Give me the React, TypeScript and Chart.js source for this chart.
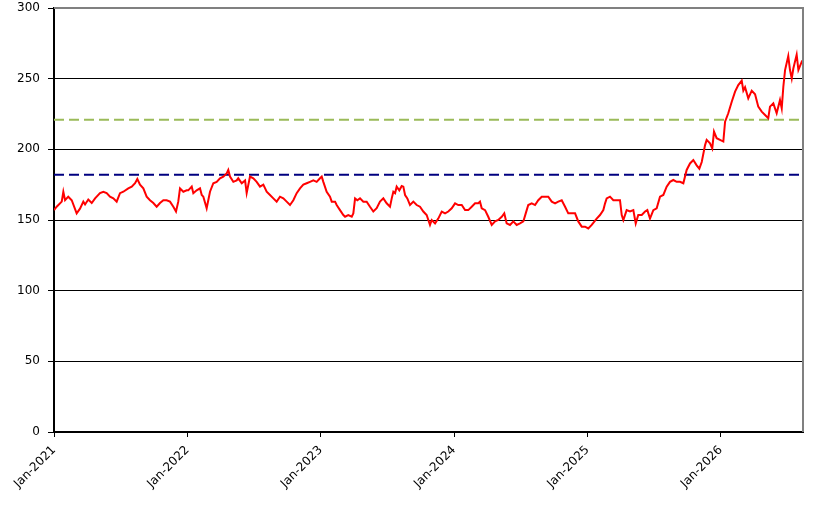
import React, { useEffect, useRef } from "react";
import { Chart, registerables } from "chart.js";

Chart.register(...registerables);

const START_YEAR = 2021;
const X_END = 5.6175; // years after Jan-2021 shown at right edge
const tickYears = [0, 1, 2, 3, 4, 5];
const yTicks = { min: 0, max: 300, step: 50 };
const GREEN_LEVEL = 221;
const NAVY_LEVEL = 182;

// time in years since Jan-2021
const yearOffsets = [
  0.000, 0.020, 0.058, 0.070, 0.083, 0.107, 0.133, 0.170, 0.195, 0.220, 0.233, 0.257, 0.283, 0.308,
  0.345, 0.370, 0.395, 0.420, 0.445, 0.470, 0.495, 0.520, 0.557, 0.583, 0.608, 0.625, 0.645, 0.670,
  0.695, 0.720, 0.745, 0.770, 0.795, 0.820, 0.845, 0.870, 0.895, 0.915, 0.932, 0.945, 0.970, 0.995,
  1.007, 1.033, 1.045, 1.070, 1.095, 1.108, 1.120, 1.145, 1.170, 1.195, 1.220, 1.245, 1.270, 1.295,
  1.307, 1.320, 1.345, 1.370, 1.382, 1.408, 1.433, 1.445, 1.470, 1.495, 1.520, 1.545, 1.570, 1.595,
  1.620, 1.645, 1.670, 1.695, 1.720, 1.745, 1.770, 1.795, 1.820, 1.845, 1.870, 1.895, 1.920, 1.945,
  1.970, 1.995, 2.008, 2.020, 2.045, 2.070, 2.083, 2.108, 2.120, 2.145, 2.170, 2.183, 2.207, 2.233,
  2.245, 2.258, 2.275, 2.295, 2.320, 2.345, 2.370, 2.395, 2.420, 2.445, 2.470, 2.495, 2.520, 2.533,
  2.545, 2.558, 2.570, 2.590, 2.608, 2.620, 2.633, 2.650, 2.670, 2.695, 2.720, 2.745, 2.770, 2.795,
  2.820, 2.833, 2.858, 2.882, 2.908, 2.933, 2.957, 2.983, 3.008, 3.032, 3.058, 3.083, 3.107, 3.133,
  3.158, 3.182, 3.195, 3.208, 3.233, 3.257, 3.283, 3.308, 3.332, 3.358, 3.377, 3.395, 3.420, 3.445,
  3.470, 3.495, 3.520, 3.538, 3.557, 3.583, 3.608, 3.632, 3.658, 3.683, 3.707, 3.733, 3.758, 3.782,
  3.808, 3.833, 3.857, 3.883, 3.908, 3.932, 3.958, 3.983, 4.007, 4.033, 4.070, 4.095, 4.120, 4.133,
  4.145, 4.170, 4.195, 4.220, 4.245, 4.258, 4.270, 4.295, 4.320, 4.345, 4.363, 4.382, 4.408, 4.433,
  4.450, 4.470, 4.495, 4.520, 4.545, 4.570, 4.595, 4.620, 4.645, 4.670, 4.695, 4.720, 4.745, 4.770,
  4.795, 4.820, 4.840, 4.858, 4.883, 4.895, 4.920, 4.937, 4.950, 4.970, 4.995, 5.020, 5.033, 5.057,
  5.083, 5.108, 5.132, 5.158, 5.170, 5.183, 5.207, 5.233, 5.258, 5.282, 5.308, 5.333, 5.357, 5.370,
  5.395, 5.420, 5.445, 5.458, 5.470, 5.483, 5.507, 5.520, 5.533, 5.545, 5.570, 5.583, 5.608, 5.618,
];

const prices = [
  157, 159.4, 163, 170, 164, 166.5, 164, 154.7, 158, 163, 161, 164.5, 162, 165.3,
  169, 170, 169, 166.5, 165.3, 163, 169, 170, 172.4, 173.6, 176, 179, 175, 172.4,
  166.5, 164, 162, 159.4, 162, 164, 164, 163, 159.4, 156, 163, 172.4, 170, 171,
  171, 173.6, 169, 171, 172.4, 167.7, 166.5, 158.3, 170, 176, 177, 179.5, 180.7, 183,
  185.4, 180.7, 177, 178, 179.5, 176, 178, 169, 180.7, 179.5, 177, 173.6, 175, 170,
  167.7, 165.3, 163, 166.5, 165.3, 163, 160.6, 164, 169, 172.4, 175, 176, 177, 178,
  177, 179.5, 180.7, 177, 170, 166.5, 163, 163, 160.6, 157, 153.5, 152.3, 153.5, 152.3,
  154.7, 165.3, 164, 165.3, 163, 163, 159.4, 156, 158.3, 163, 165.3, 161.8, 159.4, 165.3,
  170, 169, 173.6, 171, 174, 173.6, 167.7, 165.3, 160.6, 163, 160.6, 159.4, 156, 153.5,
  146.5, 150, 147.6, 151, 156, 154.7, 156, 158.3, 161.8, 160.6, 160.6, 157, 157, 159.4,
  161.8, 161.8, 163, 158.3, 157, 152.3, 146.5, 149, 150, 152.3, 154.7, 147.6, 146.5, 149,
  146.5, 147.6, 149, 154.7, 160.6, 161.8, 160.6, 164, 166.5, 166.5, 166.5, 163, 161.8, 163,
  164, 159.4, 154.7, 154.7, 154.7, 149, 145.3, 145.3, 144, 146.5, 151, 153.5, 157, 161.8,
  165.3, 166.5, 164, 164, 164, 153.5, 150, 157, 156, 157, 147.6, 153.5, 153.5, 156,
  157, 151, 157, 158.3, 166.5, 167.7, 173.6, 177, 178.3, 177, 177, 176, 185.4, 190,
  192.4, 188.7, 186.3, 191, 203, 206.7, 204.3, 200.7, 212.5, 207.9, 206.7, 205.5, 219.6, 225.5,
  233.7, 240.8, 245.5, 248.6, 241.5, 243.9, 236.1, 241.5, 239, 230.2, 226.7, 224.3, 222, 230.2,
  232.5, 225.5, 234.9, 229, 244.3, 256.1, 266, 256.1, 250.2, 257.2, 267, 256.1, 262, 261,
];

const borderPlugin = {
  id: "frameBorder",
  afterDraw(chart: any) {
    const { ctx, chartArea } = chart;
    ctx.save();
    ctx.strokeStyle = "#808080";
    ctx.lineWidth = 2;
    ctx.beginPath();
    ctx.moveTo(chartArea.left, chartArea.top);
    ctx.lineTo(chartArea.right, chartArea.top);
    ctx.lineTo(chartArea.right, chartArea.bottom);
    ctx.stroke();
    ctx.restore();
  },
};

export default function App() {
  const canvasRef = useRef<HTMLCanvasElement | null>(null);

  useEffect(() => {
    if (!canvasRef.current) return;
    Chart.defaults.font.family = "'DejaVu Sans', sans-serif";
    Chart.defaults.font.size = 12;
    Chart.defaults.color = "#000000";

    const series = yearOffsets.map((t, i) => ({ x: t, y: prices[i] }));
    const chart = new Chart(canvasRef.current, {
      type: "line",
      data: {
        datasets: [
          {
            data: series,
            borderColor: "#ff0000",
            borderWidth: 2,
            pointRadius: 0,
            tension: 0,
          },
          {
            data: [
              { x: 0, y: GREEN_LEVEL },
              { x: X_END, y: GREEN_LEVEL },
            ],
            borderColor: "#9bbb59",
            borderWidth: 2,
            borderDash: [10, 5],
            pointRadius: 0,
          },
          {
            data: [
              { x: 0, y: NAVY_LEVEL },
              { x: X_END, y: NAVY_LEVEL },
            ],
            borderColor: "#000080",
            borderWidth: 2,
            borderDash: [10, 5],
            pointRadius: 0,
          },
        ],
      },
      options: {
        animation: false,
        responsive: true,
        maintainAspectRatio: false,
        layout: { padding: { left: 0, right: 24, top: 8, bottom: 0 } },
        plugins: { legend: { display: false }, tooltip: { enabled: false } },
        scales: {
          x: {
            type: "linear",
            min: 0,
            max: X_END,
            afterBuildTicks: (scale: any) => {
              scale.ticks = tickYears.map((v) => ({ value: v }));
            },
            afterFit: (scale: any) => {
              scale.height = 79;
            },
            ticks: {
              autoSkip: false,
              maxRotation: 45,
              minRotation: 45,
              padding: 6,
              color: "#000",
              callback: (v: any) => "Jan-" + (START_YEAR + Number(v)),
            },
            grid: {
              drawOnChartArea: false,
              drawTicks: true,
              tickLength: 5,
              color: "#000",
              lineWidth: 1,
            },
            border: { color: "#000", width: 2 },
          },
          y: {
            min: yTicks.min,
            max: yTicks.max,
            afterFit: (scale: any) => {
              scale.width = 54;
              scale.paddingTop = 0;
              scale.paddingBottom = 0;
            },
            ticks: { stepSize: yTicks.step, padding: 8, color: "#000" },
            grid: {
              color: (c: any) => (c.tick && c.tick.value === yTicks.max ? "#808080" : "#000"),
              tickColor: "#000",
              tickLength: 6,
              lineWidth: 1,
            },
            border: { color: "#000", width: 2 },
          },
        },
      },
      plugins: [borderPlugin],
    });
    return () => chart.destroy();
  }, []);

  return (
    <div style={{ position: "absolute", left: 0, top: 0, width: 827, height: 511, background: "#fff" }}>
      <canvas ref={canvasRef} />
    </div>
  );
}
